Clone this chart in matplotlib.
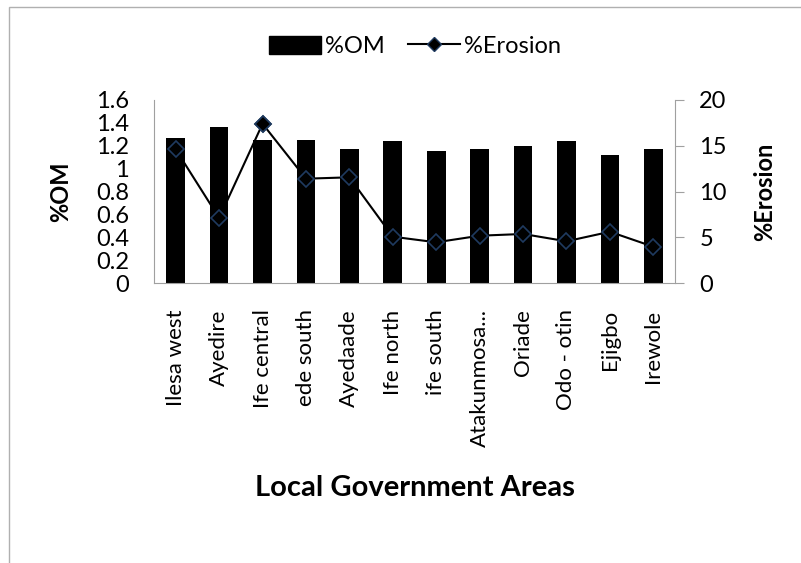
import matplotlib.pyplot as plt
import numpy as np
from matplotlib.lines import Line2D
from matplotlib.patches import Rectangle

plt.rcParams["font.family"] = ["Lato", "DejaVu Sans"]

areas = ["Ilesa west", "Ayedire", "Ife central", "ede south", "Ayedaade",
         "Ife north", "ife south", "Atakunmosa...", "Oriade", "Odo - otin",
         "Ejigbo", "Irewole"]
om = [1.265, 1.364, 1.253, 1.253, 1.174, 1.241, 1.154, 1.174, 1.198, 1.241, 1.119, 1.174]
erosion = [14.6, 7.1, 17.4, 11.4, 11.55, 5.06, 4.45, 5.17, 5.36, 4.56, 5.6, 3.97]

fig = plt.figure(figsize=(8.01, 5.63), dpi=100)
fig.patches.append(Rectangle((9 / 801, -0.1), 1.2, 1.1 - 7 / 563, transform=fig.transFigure,
                             fill=False, edgecolor="#b0b0b0", linewidth=1))
ax = fig.add_axes([0.1923, 0.4973, 0.6504, 0.3251])
x = np.arange(len(areas))

ax.bar(x, om, width=0.43, color="black", label="%OM")
ax.set_ylim(0, 1.6)
ax.set_yticks(np.arange(0, 1.61, 0.2))
ax.set_yticklabels(["0", "0.2", "0.4", "0.6", "0.8", "1", "1.2", "1.4", "1.6"])
ax.set_xlim(-0.5, len(areas) - 0.5)
ax.set_xticks(x)
ax.set_xticklabels(areas, rotation=90)
ax.tick_params(axis="y", length=0, labelsize=17, pad=18)
ax.tick_params(axis="x", length=0, labelsize=16, pad=19)
for s in ["top", "right"]:
    ax.spines[s].set_visible(False)
for s in ["left", "bottom"]:
    ax.spines[s].set_color("#a0a0a0")
ax.set_ylabel("%OM", fontsize=17, fontweight="bold", labelpad=17)
ax.set_xlabel("Local Government Areas", fontsize=21, fontweight="bold")
ax.xaxis.set_label_coords(0.5, -1.05)

ax2 = ax.twinx()
ax2.plot(x, erosion, color="black", linewidth=1.5, marker="D", markersize=8.5,
         markerfacecolor="none", markeredgecolor="#1f3a5f", markeredgewidth=1.2)
top = int(np.argmax(erosion))
ax2.plot(x[top], erosion[top], linestyle="none", marker="D", markersize=8.5,
         markerfacecolor="black", markeredgecolor="#1f3a5f", markeredgewidth=1.2)
ax2.set_ylim(0, 20)
ax2.set_yticks([0, 5, 10, 15, 20])
ax2.tick_params(axis="y", length=6.5, color="#a0a0a0", labelsize=17, pad=11)
for s in ["top", "left", "bottom"]:
    ax2.spines[s].set_visible(False)
ax2.spines["right"].set_color("#a0a0a0")
ax2.set_ylabel("%Erosion", fontsize=17, fontweight="bold", labelpad=19)

handles = [Rectangle((0, 0), 1, 1, color="black"),
           Line2D([], [], color="black", linewidth=1.5, marker="D", markersize=7,
                  markerfacecolor="black", markeredgecolor="#1f3a5f")]
fig.legend(handles, ["%OM", "%Erosion"], loc="center", bbox_to_anchor=(0.518, 0.918),
           ncol=2, frameon=False, fontsize=17, handlelength=2.2, handleheight=0.8,
           handletextpad=0.15, columnspacing=1.0)

fig.savefig("out.png", dpi=100)
